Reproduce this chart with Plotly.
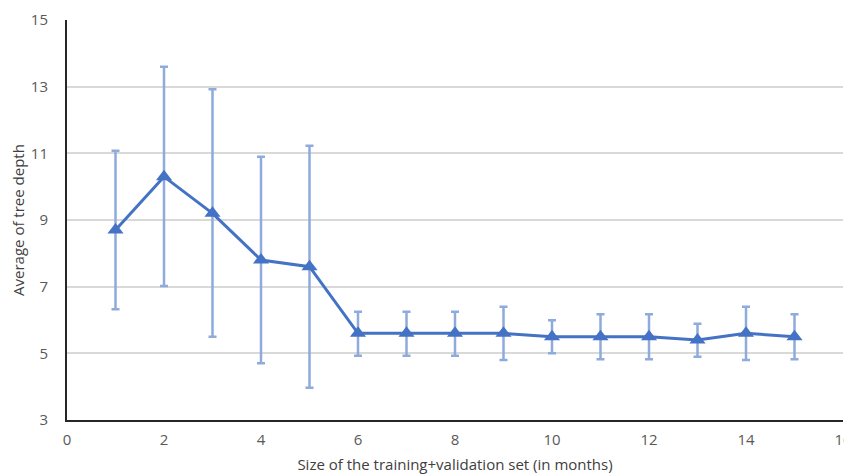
import plotly.graph_objects as go

months = [1, 2, 3, 4, 5, 6, 7, 8, 9, 10, 11, 12, 13, 14, 15]
mean_depth = [8.7, 10.3, 9.2, 7.8, 7.6, 5.6, 5.6, 5.6, 5.6, 5.5, 5.5, 5.5, 5.4, 5.6, 5.5]
upper = [11.08, 13.6, 12.92, 10.9, 11.23, 6.25, 6.25, 6.25, 6.4, 5.99, 6.17, 6.17, 5.89, 6.4, 6.17]
lower = [6.32, 7.02, 5.5, 4.7, 3.97, 4.93, 4.93, 4.93, 4.8, 5.0, 4.82, 4.82, 4.9, 4.8, 4.82]

err_plus = [u - m for u, m in zip(upper, mean_depth)]
err_minus = [m - l for m, l in zip(mean_depth, lower)]

fig = go.Figure()
fig.add_trace(go.Scatter(
    x=months, y=mean_depth, mode="lines+markers",
    line=dict(color="#4472C4", width=3),
    marker=dict(symbol="triangle-up", size=14, color="#4472C4"),
    error_y=dict(type="data", symmetric=False, array=err_plus, arrayminus=err_minus,
                 color="#8FAADC", thickness=2.5, width=4),
    showlegend=False,
))

font_family = "Open Sans, sans-serif"
fig.update_layout(
    width=844, height=468,
    margin=dict(l=59, r=9, t=12, b=56),
    paper_bgcolor="white", plot_bgcolor="white",
    font=dict(family=font_family, size=15, color="#595959"),
    xaxis=dict(range=[0, 16], tickvals=[0, 2, 4, 6, 8, 10, 12, 14, 16],
               showgrid=False, showline=True, linecolor="#262626", linewidth=2,
               ticks="outside", ticklen=5, tickcolor="rgba(0,0,0,0)", zeroline=False,
               automargin=False,
               title=dict(text="Size of the training+validation set (in months)",
                          font=dict(size=15, color="#404040"), standoff=11)),
    yaxis=dict(range=[3, 15], tickvals=[3, 5, 7, 9, 11, 13, 15],
               showgrid=True, gridcolor="#D9D9D9", gridwidth=1.5,
               showline=True, linecolor="#262626", linewidth=2,
               ticks="outside", ticklen=14, tickcolor="rgba(0,0,0,0)", zeroline=False,
               automargin=False,
               title=dict(text="Average of tree depth",
                          font=dict(size=15, color="#404040"), standoff=4)),
)

fig.write_html("out.html")
